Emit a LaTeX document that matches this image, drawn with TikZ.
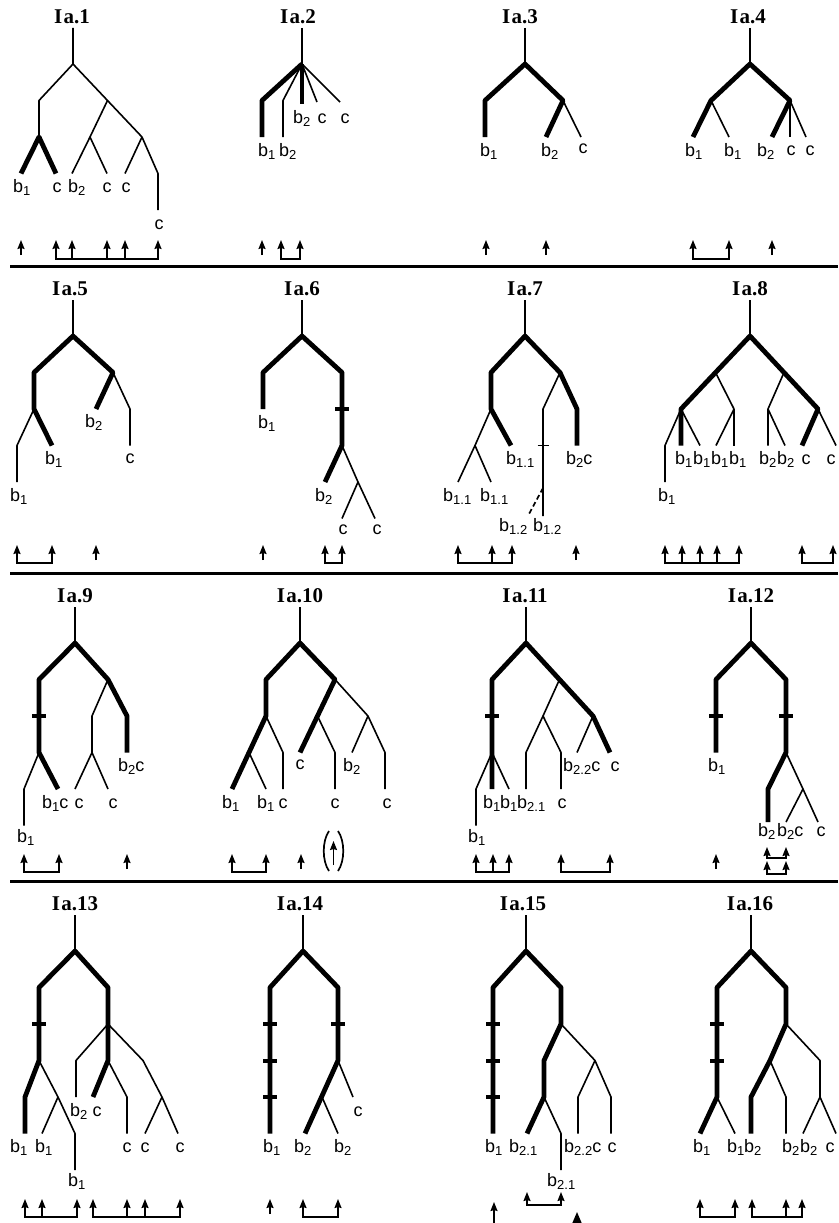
\documentclass[tikz,border=0pt]{standalone}
\usepackage{fontspec}
\setmainfont{Liberation Sans}
\newfontfamily\ttlfam{Liberation Serif}
\usetikzlibrary{arrows.meta}
\newcommand\lsub[1]{\raisebox{-3pt}{\fontsize{13}{13}\selectfont #1}}
\newcommand\labf{\fontsize{18}{18}\selectfont}
\newcommand\titf{\ttlfam\bfseries\fontsize{21}{21}\selectfont}
\newcommand\ttltext[1]{I\kern1.5pt a.#1}
\def\lvz{70}\def\lva{106.5}\def\lvb{143}\def\lvc{179.5}\def\lvd{216}\def\lve{252.5}\def\lvf{289}
\tikzset{
 thn/.style={line width=1.6pt, line cap=butt, line join=round},
 thk/.style={line width=4.8pt, line cap=butt, line join=round},
 tck/.style={line width=4pt},
 arr/.style={line width=1.6pt, -{Stealth[length=9pt,width=7pt,inset=1pt]}},
 ubr/.style={line width=1.6pt, {Stealth[length=9pt,width=7pt,inset=1pt]}-{Stealth[length=9pt,width=7pt,inset=1pt]}},
 bigarr/.style={line width=1.8pt, -{Stealth[length=12pt,width=10pt,inset=1.5pt]}},
 lab/.style={font=\labf, inner sep=0pt, anchor=base},
 labw/.style={font=\labf, inner sep=0pt, anchor=base west},
 ttl/.style={font=\titf, inner sep=0pt},
 sepline/.style={line width=3pt},
 paren/.style={line width=1.7pt},
}
\newcommand\tk[2]{\draw[tck] (#1-7,#2) -- (#1+7,#2);}
\newcommand\uar[3]{\draw[arr] (#1,#3) -- (#1,#2);}
\newcommand\ubrk[4]{\draw[ubr] (#1,#3) -- (#1,#4) -- (#2,#4) -- (#2,#3);}
\begin{document}
\begin{tikzpicture}[x=1pt,y=-1pt]
\clip (0,0) rectangle (838,1223);
\fill[white] (0,0) rectangle (838,1223);
% separators
\draw[sepline] (10,266) -- (838,266);
\draw[sepline] (10,573) -- (838,573);
\draw[sepline] (10,881) -- (838,881);
%================ ROW 1
\begin{scope}[shift={(0,-6)}]
% Ia.1
\node[ttl] (t1) at (72,23) {\ttltext{1}};
\coordinate (p1s) at (73,34); \coordinate (p1r) at (73,\lvz);
\coordinate (p1a) at (39,\lva); \coordinate (p1a2) at (39,\lvb);
\coordinate (p1b) at (107.5,\lva); \coordinate (p1c) at (142,\lvb);
\coordinate (p1d) at (90,\lvb); \coordinate (p1e) at (158,\lvc);
\coordinate (p1l1) at (21,\lvc); \coordinate (p1l2) at (56,\lvc);
\coordinate (p1l3) at (72,\lvc); \coordinate (p1l4) at (107,\lvc);
\coordinate (p1l5) at (125,\lvc); \coordinate (p1l6) at (158,\lvd);
\draw[thn] (p1s) -- (p1r) -- (p1a) -- (p1a2);
\draw[thn] (p1r) -- (p1c);
\draw[thn] (p1b) -- (p1d) -- (p1l3); \draw[thn] (p1d) -- (p1l4);
\draw[thn] (p1c) -- (p1l5); \draw[thn] (p1c) -- (p1e) -- (p1l6);
\draw[thk] (p1l1) -- (p1a2) -- (p1l2);
\node[labw] (n1a) at (13,\lvc+19) {b\lsub{1}};
\node[lab] (n1b) at (57,\lvc+19) {c};
\node[labw] (n1c) at (68,\lvc+19) {b\lsub{2}};
\node[lab] (n1d) at (107,\lvc+19) {c};
\node[lab] (n1e) at (126,\lvc+19) {c};
\node[lab] (n1f) at (159,\lvd+19) {c};
\uar{21}{246}{261}
\ubrk{56}{158}{246}{265}
\uar{72}{246}{265}\uar{107}{246}{265}\uar{125}{246}{265}
% Ia.2
\node[ttl] (t2) at (298,23) {\ttltext{2}};
\coordinate (p2s) at (302,34); \coordinate (p2r) at (302,\lvz);
\coordinate (p2a) at (262,\lva); \coordinate (p2a2) at (262,\lvb);
\coordinate (p2b) at (283,\lva); \coordinate (p2b2) at (283,\lvb);
\coordinate (p2c) at (302,110); \coordinate (p2d) at (317,108); \coordinate (p2e) at (340,108);
\draw[thn] (p2s) -- (p2r);
\draw[thk] (p2r) -- (p2a) -- (p2a2);
\draw[thn] (p2r) -- (p2b) -- (p2b2);
\draw[thk] (p2r) -- (p2c);
\draw[thn] (p2r) -- (p2d); \draw[thn] (p2r) -- (p2e);
\node[labw] (n2a) at (258,\lvb+19) {b\lsub{1}};
\node[labw] (n2b) at (279,\lvb+19) {b\lsub{2}};
\node[labw] (n2c) at (293,129) {b\lsub{2}};
\node[lab] (n2d) at (322,129) {c};
\node[lab] (n2e) at (345,129) {c};
\uar{262}{246}{261}
\ubrk{281}{300}{246}{265}
% Ia.3
\node[ttl] (t3) at (520,23) {\ttltext{3}};
\coordinate (p3s) at (525,34); \coordinate (p3r) at (525,\lvz);
\coordinate (p3a) at (485,\lva); \coordinate (p3a2) at (485,\lvb);
\coordinate (p3b) at (563,\lva); \coordinate (p3l1) at (546,\lvb); \coordinate (p3l2) at (581,\lvb);
\draw[thn] (p3s) -- (p3r);
\draw[thk] (p3a2) -- (p3a) -- (p3r) -- (p3b) -- (p3l1);
\draw[thn] (p3b) -- (p3l2);
\node[labw] (n3a) at (480,\lvb+19) {b\lsub{1}};
\node[labw] (n3b) at (541,\lvb+19) {b\lsub{2}};
\node[lab] (n3c) at (583,\lvb+16) {c};
\uar{486}{246}{261}\uar{546}{246}{261}
% Ia.4
\node[ttl] (t4) at (748,23) {\ttltext{4}};
\coordinate (p4s) at (750,34); \coordinate (p4r) at (750,\lvz);
\coordinate (p4a) at (711,\lva); \coordinate (p4b) at (790,\lva);
\coordinate (p4l1) at (693,\lvb); \coordinate (p4l2) at (729,\lvb);
\coordinate (p4l3) at (772,\lvb); \coordinate (p4l4) at (790,\lvb); \coordinate (p4l5) at (806,\lvb);
\draw[thn] (p4s) -- (p4r);
\draw[thk] (p4l1) -- (p4a) -- (p4r) -- (p4b) -- (p4l3);
\draw[thn] (p4a) -- (p4l2); \draw[thn] (p4b) -- (p4l4); \draw[thn] (p4b) -- (p4l5);
\node[labw] (n4a) at (685,\lvb+19) {b\lsub{1}};
\node[labw] (n4b) at (724,\lvb+19) {b\lsub{1}};
\node[labw] (n4c) at (757,\lvb+19) {b\lsub{2}};
\node[lab] (n4d) at (791,\lvb+18) {c};
\node[lab] (n4e) at (810,\lvb+18) {c};
\ubrk{693}{729}{246}{265}
\uar{772}{246}{261}
\end{scope}
%================ ROW 2
\begin{scope}[shift={(0,266)}]
% Ia.5
\node[ttl] (t5) at (70,23) {\ttltext{5}};
\coordinate (p5s) at (73,34); \coordinate (p5r) at (73,\lvz);
\coordinate (p5a) at (34,\lva); \coordinate (p5a2) at (34,\lvb);
\coordinate (p5c) at (17,\lvc); \coordinate (p5l1) at (17,\lvd); \coordinate (p5l2) at (52,\lvc);
\coordinate (p5b) at (113,\lva); \coordinate (p5l3) at (96,\lvb);
\coordinate (p5d) at (130,\lvb); \coordinate (p5l4) at (130,\lvc);
\draw[thn] (p5s) -- (p5r);
\draw[thk] (p5l2) -- (p5a2) -- (p5a) -- (p5r) -- (p5b) -- (p5l3);
\draw[thn] (p5a2) -- (p5c) -- (p5l1);
\draw[thn] (p5b) -- (p5d) -- (p5l4);
\node[labw] (n5a) at (10,\lvd+19) {b\lsub{1}};
\node[labw] (n5b) at (45,\lvc+19) {b\lsub{1}};
\node[labw] (n5c) at (85,\lvb+18) {b\lsub{2}};
\node[lab] (n5d) at (130,\lvc+18) {c};
\ubrk{17}{52}{279}{297}
\uar{96}{279}{294}
% Ia.6
\node[ttl] (t6) at (302,23) {\ttltext{6}};
\coordinate (p6s) at (302,34); \coordinate (p6r) at (302,\lvz);
\coordinate (p6a) at (263,\lva); \coordinate (p6l1) at (263,\lvb);
\coordinate (p6b) at (342,\lva); \coordinate (p6c) at (342,\lvc);
\coordinate (p6l2) at (325,\lvd); \coordinate (p6d) at (358,\lvd);
\coordinate (p6l3) at (342,\lve); \coordinate (p6l4) at (375,\lve);
\draw[thn] (p6s) -- (p6r);
\draw[thk] (p6l1) -- (p6a) -- (p6r) -- (p6b) -- (p6c) -- (p6l2);
\tk{342}{\lvb}
\draw[thn] (p6c) -- (p6d) -- (p6l4); \draw[thn] (p6d) -- (p6l3);
\node[labw] (n6a) at (258,\lvb+19) {b\lsub{1}};
\node[labw] (n6b) at (315,\lvd+19) {b\lsub{2}};
\node[lab] (n6c) at (343,\lve+16) {c};
\node[lab] (n6d) at (377,\lve+16) {c};
\uar{263}{279}{294}
\ubrk{325}{342}{279}{297}
% Ia.7
\node[ttl] (t7) at (525,23) {\ttltext{7}};
\coordinate (p7s) at (525,34); \coordinate (p7r) at (525,\lvz);
\coordinate (p7a) at (491,\lva); \coordinate (p7a2) at (491,\lvb);
\coordinate (p7b) at (475,\lvc); \coordinate (p7l1) at (458,\lvd); \coordinate (p7l2) at (491,\lvd);
\coordinate (p7l3) at (511,\lvc);
\coordinate (p7c) at (560,\lva); \coordinate (p7d) at (543,\lvb); \coordinate (p7l4) at (543,250);
\coordinate (p7e) at (577,\lvb); \coordinate (p7l5) at (577,\lvc);
\coordinate (p7x) at (543,222); \coordinate (p7l6) at (529,248);
\draw[thn] (p7s) -- (p7r);
\draw[thk] (p7l3) -- (p7a2) -- (p7a) -- (p7r) -- (p7c) -- (p7e) -- (p7l5);
\draw[thn] (p7a2) -- (p7b) -- (p7l1); \draw[thn] (p7b) -- (p7l2);
\draw[thn] (p7c) -- (p7d) -- (p7l4);
\draw[thn] (537.5,\lvc) -- (548.5,\lvc);
\draw[line width=1.7pt, dash pattern=on 5pt off 3pt] (p7x) -- (p7l6);
\node[labw] (n7a) at (443,\lvd+19) {b\lsub{1.1}};
\node[labw] (n7b) at (480,\lvd+19) {b\lsub{1.1}};
\node[labw] (n7c) at (506,\lvc+19) {b\lsub{1.1}};
\node[labw] (n7d) at (566,\lvc+19) {b\lsub{2}c};
\node[labw] (n7e) at (499,265) {b\lsub{1.2}};
\node[labw] (n7f) at (533,265) {b\lsub{1.2}};
\ubrk{458}{512}{279}{297}
\uar{492}{279}{297}
\uar{576}{279}{294}
% Ia.8
\node[ttl] (t8) at (750,23) {\ttltext{8}};
\coordinate (p8s) at (750,34); \coordinate (p8r) at (750,\lvz);
\coordinate (p8m) at (715.5,\lva); \coordinate (p8a) at (681,\lvb);
\coordinate (p8n) at (734,\lvb); \coordinate (p8l1) at (716,\lvc); \coordinate (p8l2) at (734,\lvc);
\coordinate (p8l3) at (681,\lvc); \coordinate (p8l4) at (700,\lvc);
\coordinate (p8c) at (665,\lvc); \coordinate (p8l5) at (665,\lvd);
\coordinate (p8m2) at (784,\lva); \coordinate (p8b) at (818,\lvb);
\coordinate (p8n2) at (768,\lvb); \coordinate (p8l6) at (768,\lvc); \coordinate (p8l7) at (785,\lvc);
\coordinate (p8l8) at (802,\lvc); \coordinate (p8l9) at (836,\lvc);
\draw[thn] (p8s) -- (p8r);
\draw[thk] (p8l3) -- (p8a) -- (p8r) -- (p8b) -- (p8l8);
\draw[thn] (p8m) -- (p8n) -- (p8l1); \draw[thn] (p8n) -- (p8l2);
\draw[thn] (p8a) -- (p8l4); \draw[thn] (p8a) -- (p8c) -- (p8l5);
\draw[thn] (p8m2) -- (p8n2) -- (p8l6); \draw[thn] (p8n2) -- (p8l7);
\draw[thn] (p8b) -- (p8l9);
\node[labw] (n8a) at (658,\lvd+19) {b\lsub{1}};
\node[labw] (n8b) at (675,\lvc+19) {b\lsub{1}};
\node[labw] (n8c) at (693,\lvc+19) {b\lsub{1}};
\node[labw] (n8d) at (711,\lvc+19) {b\lsub{1}};
\node[labw] (n8e) at (729,\lvc+19) {b\lsub{1}};
\node[labw] (n8f) at (759,\lvc+19) {b\lsub{2}};
\node[labw] (n8g) at (777,\lvc+19) {b\lsub{2}};
\node[lab] (n8h) at (806,\lvc+19) {c};
\node[lab] (n8i) at (831,\lvc+19) {c};
\ubrk{665}{739}{279}{297}
\uar{682}{279}{297}\uar{700}{279}{297}\uar{717}{279}{297}
\ubrk{802}{833}{279}{297}
\end{scope}
%================ ROW 3
\begin{scope}[shift={(0,573)}]
% Ia.9
\node[ttl] (t9) at (75,23) {\ttltext{9}};
\coordinate (p9s) at (75,34); \coordinate (p9r) at (75,\lvz);
\coordinate (p9a) at (39,\lva); \coordinate (p9a2) at (39,\lvc);
\coordinate (p9c) at (24,\lvd); \coordinate (p9l1) at (24,\lve); \coordinate (p9l2) at (58,\lvd);
\coordinate (p9b) at (108,\lva); \coordinate (p9c1) at (92,\lvb); \coordinate (p9c2) at (92,\lvc);
\coordinate (p9l3) at (75,\lvd); \coordinate (p9l4) at (108,\lvd);
\coordinate (p9d) at (127,\lvb); \coordinate (p9l5) at (127,\lvc);
\draw[thn] (p9s) -- (p9r);
\draw[thk] (p9l2) -- (p9a2) -- (p9a) -- (p9r) -- (p9b) -- (p9d) -- (p9l5);
\tk{39}{\lvb}
\draw[thn] (p9a2) -- (p9c) -- (p9l1);
\draw[thn] (p9b) -- (p9c1) -- (p9c2) -- (p9l3); \draw[thn] (p9c2) -- (p9l4);
\node[labw] (n9a) at (17,\lve+17) {b\lsub{1}};
\node[labw] (n9b) at (42,\lvd+19) {b\lsub{1}c};
\node[lab] (n9c) at (79,\lvd+19) {c};
\node[lab] (n9d) at (113,\lvd+19) {c};
\node[labw] (n9e) at (118,\lvc+19) {b\lsub{2}c};
\ubrk{24}{59}{281}{299}
\uar{127}{281}{296}
% Ia.10
\node[ttl] (t10) at (300,23) {\ttltext{10}};
\coordinate (p10s) at (300,34); \coordinate (p10r) at (300,\lvz);
\coordinate (p10a) at (266,\lva); \coordinate (p10a2) at (266,\lvb);
\coordinate (p10a3) at (249,\lvc); \coordinate (p10l1) at (232,\lvd); \coordinate (p10l2) at (266,\lvd);
\coordinate (p10e) at (283,\lvc); \coordinate (p10l3) at (283,\lvd);
\coordinate (p10b) at (335,\lva); \coordinate (p10p) at (317.5,\lvb); \coordinate (p10l4) at (300,\lvc);
\coordinate (p10f) at (335,\lvc); \coordinate (p10l5) at (335,\lvd);
\coordinate (p10c) at (368,\lvb); \coordinate (p10l6) at (352,\lvc);
\coordinate (p10g) at (385,\lvc); \coordinate (p10l7) at (385,\lvd);
\draw[thn] (p10s) -- (p10r);
\draw[thk] (p10l1) -- (p10a2) -- (p10a) -- (p10r) -- (p10b) -- (p10l4);
\draw[thn] (p10a3) -- (p10l2);
\draw[thn] (p10a2) -- (p10e) -- (p10l3);
\draw[thn] (p10p) -- (p10f) -- (p10l5);
\draw[thn] (p10b) -- (p10c) -- (p10l6); \draw[thn] (p10c) -- (p10g) -- (p10l7);
\node[labw] (n10a) at (222,\lvd+19) {b\lsub{1}};
\node[labw] (n10b) at (257,\lvd+19) {b\lsub{1}};
\node[lab] (n10c) at (283,\lvd+19) {c};
\node[lab] (n10d) at (300,\lvc+17) {c};
\node[lab] (n10e) at (335,\lvd+19) {c};
\node[labw] (n10f) at (343,\lvc+19) {b\lsub{2}};
\node[lab] (n10g) at (387,\lvd+19) {c};
\ubrk{232}{266}{281}{299}
\uar{301}{281}{296}
\uar{333.5}{268}{292}
\draw[paren] (329,258) .. controls (322,268) and (322,288) .. (329,298);
\draw[paren] (338,258) .. controls (345,268) and (345,288) .. (338,298);
% Ia.11
\node[ttl] (t11) at (525,23) {\ttltext{11}};
\coordinate (p11s) at (526,34); \coordinate (p11r) at (526,\lvz);
\coordinate (p11a) at (492,\lva); \coordinate (p11a2) at (492,\lvc);
\coordinate (p11c) at (476,\lvd); \coordinate (p11l1) at (476,\lve);
\coordinate (p11l2) at (492,\lvd); \coordinate (p11l3) at (509,\lvd);
\coordinate (p11m) at (559.5,\lva); \coordinate (p11b) at (593,\lvb);
\coordinate (p11d) at (543,\lvb); \coordinate (p11e) at (526,\lvc); \coordinate (p11l4) at (526,\lvd);
\coordinate (p11f) at (561,\lvc); \coordinate (p11l5) at (561,\lvd);
\coordinate (p11l6) at (577,\lvc); \coordinate (p11l7) at (610,\lvc);
\draw[thn] (p11s) -- (p11r);
\draw[thk] (p11l2) -- (p11a2) -- (p11a) -- (p11r) -- (p11b) -- (p11l7);
\tk{492}{\lvb}
\draw[thn] (p11a2) -- (p11c) -- (p11l1); \draw[thn] (p11a2) -- (p11l3);
\draw[thn] (p11m) -- (p11d) -- (p11e) -- (p11l4); \draw[thn] (p11d) -- (p11f) -- (p11l5);
\draw[thn] (p11b) -- (p11l6);
\node[labw] (n11a) at (468,\lve+17) {b\lsub{1}};
\node[labw] (n11b) at (483,\lvd+19) {b\lsub{1}};
\node[labw] (n11c) at (500,\lvd+19) {b\lsub{1}};
\node[labw] (n11d) at (517,\lvd+19) {b\lsub{2.1}};
\node[lab] (n11e) at (562,\lvd+19) {c};
\node[labw] (n11f) at (563,\lvc+19) {b\lsub{2.2}c};
\node[lab] (n11g) at (615,\lvc+19) {c};
\ubrk{476}{509}{281}{299}
\uar{493}{281}{299}
\ubrk{561}{610}{281}{299}
% Ia.12
\node[ttl] (t12) at (751,23) {\ttltext{12}};
\coordinate (p12s) at (751,34); \coordinate (p12r) at (751,\lvz);
\coordinate (p12a) at (716,\lva); \coordinate (p12l1) at (716,\lvc);
\coordinate (p12b) at (786,\lva); \coordinate (p12b2) at (786,\lvc);
\coordinate (p12c) at (768,\lvd); \coordinate (p12l2) at (768,249);
\coordinate (p12d) at (803,\lvd); \coordinate (p12l3) at (786,249); \coordinate (p12l4) at (818,249);
\draw[thn] (p12s) -- (p12r);
\draw[thk] (p12l1) -- (p12a) -- (p12r) -- (p12b) -- (p12b2) -- (p12c) -- (p12l2);
\tk{716}{\lvb}\tk{786}{\lvb}
\draw[thn] (p12b2) -- (p12d) -- (p12l4); \draw[thn] (p12d) -- (p12l3);
\node[labw] (n12a) at (708,\lvc+19) {b\lsub{1}};
\node[labw] (n12b) at (758,263) {b\lsub{2}};
\node[labw] (n12c) at (777,263) {b\lsub{2}c};
\node[lab] (n12d) at (821,263) {c};
\uar{716}{281}{296}
\ubrk{767}{786}{274}{285}
\ubrk{767}{786}{288}{301}
\end{scope}
%================ ROW 4
\begin{scope}[shift={(0,881)}]
% Ia.13
\node[ttl] (t13) at (75,23) {\ttltext{13}};
\coordinate (p13s) at (75,34); \coordinate (p13r) at (75,\lvz);
\coordinate (p13a) at (39,\lva); \coordinate (p13a2) at (39,\lvc);
\coordinate (p13c) at (25,\lvd); \coordinate (p13l1) at (25,\lve);
\coordinate (p13n) at (58,\lvd); \coordinate (p13l2) at (42,\lve);
\coordinate (p13e) at (75,\lve); \coordinate (p13l3) at (75,\lvf);
\coordinate (p13b) at (108,\lva); \coordinate (p13b2) at (108,\lvb);
\coordinate (p13f) at (76,\lvc); \coordinate (p13l4) at (76,\lvd);
\coordinate (p13b3) at (108,\lvc); \coordinate (p13l5) at (93,\lvd);
\coordinate (p13g) at (127,\lvd); \coordinate (p13l6) at (127,\lve);
\coordinate (p13h) at (143,\lvc); \coordinate (p13d) at (162,\lvd);
\coordinate (p13l7) at (145,\lve); \coordinate (p13l8) at (178,\lve);
\draw[thn] (p13s) -- (p13r);
\draw[thk] (p13l1) -- (p13c) -- (p13a2) -- (p13a) -- (p13r) -- (p13b) -- (p13b3) -- (p13l5);
\tk{39}{\lvb}
\draw[thn] (p13a2) -- (p13n) -- (p13l2); \draw[thn] (p13n) -- (p13e) -- (p13l3);
\draw[thn] (p13b2) -- (p13f) -- (p13l4);
\draw[thn] (p13b3) -- (p13g) -- (p13l6);
\draw[thn] (p13b2) -- (p13h) -- (p13d) -- (p13l7); \draw[thn] (p13d) -- (p13l8);
\node[labw] (n13a) at (10,\lve+19) {b\lsub{1}};
\node[labw] (n13b) at (35,\lve+19) {b\lsub{1}};
\node[labw] (n13c) at (68,\lvf+16) {b\lsub{1}};
\node[labw] (n13d) at (70,\lvd+19) {b\lsub{2}};
\node[lab] (n13e) at (97,\lvd+19) {c};
\node[lab] (n13f) at (127,\lve+19) {c};
\node[lab] (n13g) at (145,\lve+19) {c};
\node[lab] (n13h) at (180,\lve+19) {c};
\ubrk{25}{77}{318}{336}
\uar{42}{318}{336}
\ubrk{93}{180}{318}{336}
\uar{127}{318}{336}\uar{145}{318}{336}
% Ia.14
\node[ttl] (t14) at (300,23) {\ttltext{14}};
\coordinate (p14s) at (303,34); \coordinate (p14r) at (303,\lvz);
\coordinate (p14a) at (270,\lva); \coordinate (p14l1) at (270,\lve);
\coordinate (p14b) at (338,\lva); \coordinate (p14b2) at (338,\lvc);
\coordinate (p14b3) at (322,\lvd); \coordinate (p14l2) at (305,\lve);
\coordinate (p14l3) at (338,\lve); \coordinate (p14l4) at (353,\lvd);
\draw[thn] (p14s) -- (p14r);
\draw[thk] (p14l1) -- (p14a) -- (p14r) -- (p14b) -- (p14b2) -- (p14l2);
\tk{270}{\lvb}\tk{270}{\lvc}\tk{270}{\lvd}\tk{338}{\lvb}
\draw[thn] (p14b3) -- (p14l3); \draw[thn] (p14b2) -- (p14l4);
\node[labw] (n14a) at (263,\lve+19) {b\lsub{1}};
\node[labw] (n14b) at (294,\lve+19) {b\lsub{2}};
\node[labw] (n14c) at (334,\lve+19) {b\lsub{2}};
\node[lab] (n14d) at (358,\lvd+19) {c};
\uar{270}{318}{333}
\ubrk{303}{338}{318}{336}
% Ia.15
\node[ttl] (t15) at (523,23) {\ttltext{15}};
\coordinate (p15s) at (526,34); \coordinate (p15r) at (526,\lvz);
\coordinate (p15a) at (493,\lva); \coordinate (p15l1) at (493,\lve);
\coordinate (p15b) at (561,\lva); \coordinate (p15b2) at (561,\lvb);
\coordinate (p15b3) at (544,\lvc); \coordinate (p15b4) at (544,\lvd);
\coordinate (p15l2) at (527,\lve); \coordinate (p15e) at (561,\lve); \coordinate (p15l3) at (561,\lvf);
\coordinate (p15c) at (595,\lvc); \coordinate (p15f) at (578,\lvd); \coordinate (p15l4) at (578,\lve);
\coordinate (p15g) at (611,\lvd); \coordinate (p15l5) at (611,\lve);
\draw[thn] (p15s) -- (p15r);
\draw[thk] (p15l1) -- (p15a) -- (p15r) -- (p15b) -- (p15b2) -- (p15b3) -- (p15b4) -- (p15l2);
\tk{493}{\lvb}\tk{493}{\lvc}\tk{493}{\lvd}
\draw[thn] (p15b4) -- (p15e) -- (p15l3);
\draw[thn] (p15b2) -- (p15c) -- (p15f) -- (p15l4); \draw[thn] (p15c) -- (p15g) -- (p15l5);
\node[labw] (n15a) at (485,\lve+19) {b\lsub{1}};
\node[labw] (n15b) at (509,\lve+19) {b\lsub{2.1}};
\node[labw] (n15c) at (547,\lvf+16) {b\lsub{2.1}};
\node[labw] (n15d) at (564,\lve+19) {b\lsub{2.2}c};
\node[lab] (n15e) at (612,\lve+19) {c};
\uar{494}{321}{345}
\ubrk{527}{561}{311}{324}
\draw[bigarr] (577,345) -- (577,331);
% Ia.16
\node[ttl] (t16) at (750,23) {\ttltext{16}};
\coordinate (p16s) at (751,34); \coordinate (p16r) at (751,\lvz);
\coordinate (p16a) at (717,\lva); \coordinate (p16a2) at (717,\lvd);
\coordinate (p16l1) at (700,\lve); \coordinate (p16l2) at (735,\lve);
\coordinate (p16b) at (786,\lva); \coordinate (p16b2) at (786,\lvb);
\coordinate (p16b3) at (770,\lvc); \coordinate (p16b4) at (751,\lvd); \coordinate (p16l3) at (751,\lve);
\coordinate (p16e) at (786,\lvd); \coordinate (p16l4) at (786,\lve);
\coordinate (p16c) at (820,\lvc); \coordinate (p16c2) at (820,\lvd);
\coordinate (p16l5) at (803,\lve); \coordinate (p16l6) at (836,\lve);
\draw[thn] (p16s) -- (p16r);
\draw[thk] (p16l1) -- (p16a2) -- (p16a) -- (p16r) -- (p16b) -- (p16b2) -- (p16b3) -- (p16b4) -- (p16l3);
\tk{717}{\lvb}\tk{717}{\lvc}
\draw[thn] (p16a2) -- (p16l2);
\draw[thn] (p16b3) -- (p16e) -- (p16l4);
\draw[thn] (p16b2) -- (p16c) -- (p16c2) -- (p16l5); \draw[thn] (p16c2) -- (p16l6);
\node[labw] (n16a) at (693,\lve+19) {b\lsub{1}};
\node[labw] (n16b) at (727,\lve+19) {b\lsub{1}};
\node[labw] (n16c) at (744,\lve+19) {b\lsub{2}};
\node[labw] (n16d) at (782,\lve+19) {b\lsub{2}};
\node[labw] (n16e) at (800,\lve+19) {b\lsub{2}};
\node[lab] (n16f) at (830,\lve+19) {c};
\ubrk{700}{735}{318}{336}
\ubrk{752}{802}{318}{336}
\uar{786}{318}{336}
\end{scope}
\end{tikzpicture}
\end{document}
